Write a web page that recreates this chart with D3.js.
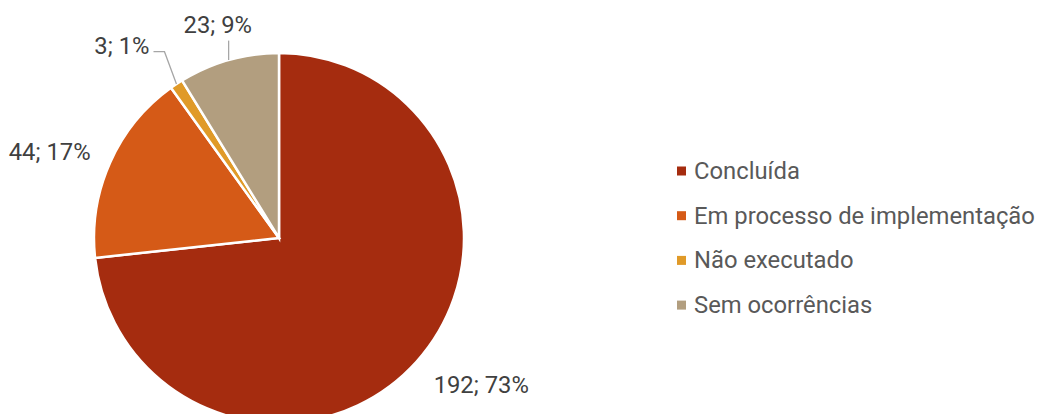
<!DOCTYPE html>
<html><head><meta charset="utf-8">
<script src="https://cdn.jsdelivr.net/npm/d3@7"></script>
<style>body{margin:0;background:#fff}svg{display:block}</style>
</head><body>
<svg id="chart" width="1038" height="414"></svg>
<script>
const categories = ["Concluída", "Em processo de implementação", "Não executado", "Sem ocorrências"];
const values = [192, 44, 3, 23];
const percents = ["73%", "17%", "1%", "9%"];
const colors = ["#A52C0F", "#D55A17", "#E09A28", "#B29E7F"];

const W = 1038, H = 414;
const cx = 279, cy = 238, R = 185;
// label placement: angle (deg, clockwise from top) and distance from center
const labelAngle = [126, 290.6, 320.7, 344];
const labelDist = [250, 245, 248, 222];
const hasLeader = [false, false, true, true];

const svg = d3.select("#chart");
const g = svg.append("g").attr("transform", `translate(${cx},${cy})`);
const pie = d3.pie().sort(null).value(d => d)(values);
const arc = d3.arc().innerRadius(0).outerRadius(R);

g.selectAll("path.slice").data(pie).join("path")
  .attr("class", "slice")
  .attr("d", arc)
  .attr("fill", (d, i) => colors[i])
  .attr("stroke", "#fff").attr("stroke-width", 2.5).attr("stroke-linejoin", "miter");

const fs = 23.8;
const labels = pie.map((d, i) => {
  const a = labelAngle[i] * Math.PI / 180;
  return { i, x: labelDist[i] * Math.sin(a), y: -labelDist[i] * Math.cos(a), text: values[i] + "; " + percents[i], d };
});

const lg = g.append("g");
lg.selectAll("text").data(labels).join("text")
  .attr("x", d => d.x).attr("y", d => d.y)
  .attr("text-anchor", "middle").attr("dominant-baseline", "central")
  .attr("font-family", "Roboto, sans-serif").attr("font-size", fs)
  .attr("fill", "#404040")
  .text(d => d.text);

// leader lines
lg.selectAll("text").each(function(d) {
  if (!hasLeader[d.i]) return;
  const bb = this.getBBox();
  const mid = (d.d.startAngle + d.d.endAngle) / 2;
  const px = R * Math.sin(mid), py = -R * Math.cos(mid);
  let pts;
  if (d.i === 3) {
    pts = [[px, py], [px, bb.y + bb.height + 2]];
  } else {
    const ly = bb.y + bb.height * 0.7;
    pts = [[px, py], [bb.x + bb.width + 15, ly], [bb.x + bb.width + 4, ly]];
  }
  lg.append("path").attr("d", d3.line()(pts))
    .attr("fill", "none").attr("stroke", "#A6A6A6").attr("stroke-width", 1.3);
});

// legend
const leg = svg.append("g").attr("transform", "translate(677,171)");
const row = leg.selectAll("g").data(categories).join("g")
  .attr("transform", (d, i) => `translate(0,${i * 44.7})`);
row.append("rect").attr("x", 0).attr("y", -4.5).attr("width", 9).attr("height", 9)
  .attr("fill", (d, i) => colors[i]);
row.append("text").attr("x", 17).attr("y", 0).attr("dominant-baseline", "central")
  .attr("font-family", "Roboto, sans-serif").attr("font-size", fs)
  .attr("fill", "#595959").text(d => d);
</script>
</body></html>
